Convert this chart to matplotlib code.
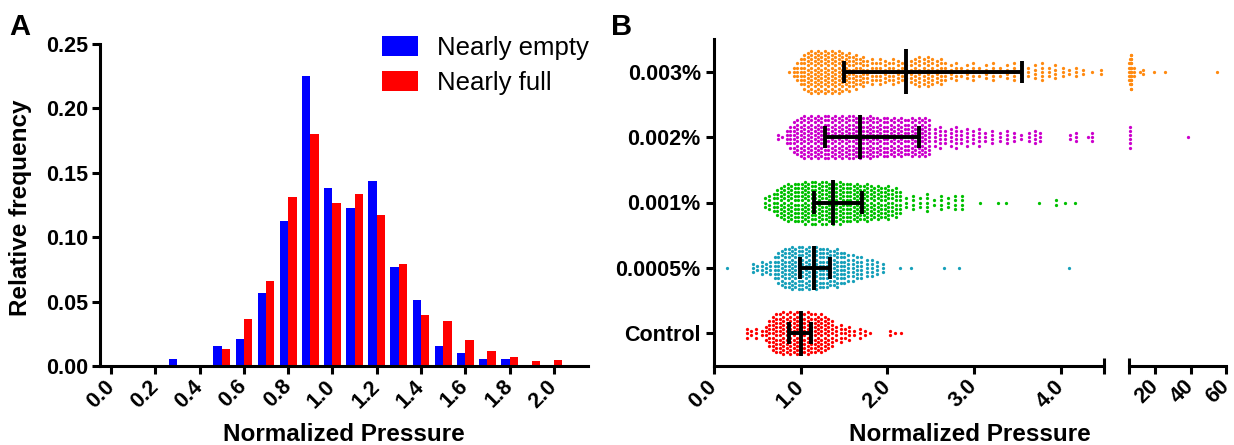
import matplotlib
matplotlib.use('Agg')
import matplotlib.pyplot as plt
import numpy as np

plt.rcParams['font.family'] = ['Liberation Sans', 'DejaVu Sans']

# --- Panel A data: relative frequency histogram ---
bin_centers = [0.3, 0.4, 0.5, 0.6, 0.7, 0.8, 0.9, 1.0, 1.1, 1.2,
               1.3, 1.4, 1.5, 1.6, 1.7, 1.8, 1.9, 2.0]
nearly_empty = [0.0055, 0.0, 0.0155, 0.0207, 0.0565, 0.1127, 0.2250, 0.1380, 0.1230, 0.1433,
                0.0770, 0.0513, 0.0155, 0.0104, 0.0054, 0.0054, 0.0, 0.0]
nearly_full = [0.0, 0.0, 0.0130, 0.0363, 0.0663, 0.1313, 0.1800, 0.1267, 0.1337, 0.1176,
               0.0790, 0.0396, 0.0350, 0.0200, 0.0117, 0.0070, 0.0036, 0.0047]

# --- Panel B data: scatter columns (value, number of dots) ---
groups = ['Control', '0.0005%', '0.001%', '0.002%', '0.003%']
group_colors = ['#FF0000', '#17A0BA', '#00C000', '#CC00CC', '#FF8A10']

control_cols = [(0.38, 3), (0.43, 2), (0.48, 3), (0.55, 2), (0.60, 4), (0.64, 7), (0.68, 9),
                (0.72, 10), (0.76, 10), (0.80, 11), (0.84, 10), (0.88, 11), (0.92, 10),
                (0.96, 11), (1.00, 10), (1.04, 10), (1.08, 11), (1.12, 10), (1.16, 10),
                (1.20, 9), (1.24, 10), (1.28, 9), (1.32, 8), (1.36, 7), (1.41, 4), (1.46, 5),
                (1.51, 3), (1.56, 4), (1.62, 2), (1.68, 3), (1.74, 2), (1.80, 1),
                (2.03, 2), (2.09, 1), (2.16, 1)]

p0005_cols = [(0.15, 1), (0.45, 3), (0.50, 2), (0.55, 4), (0.60, 3), (0.65, 4), (0.70, 6),
              (0.74, 8), (0.78, 9), (0.82, 10), (0.86, 10), (0.90, 11), (0.94, 10), (0.98, 11),
              (1.02, 11), (1.06, 10), (1.10, 11), (1.14, 10), (1.18, 11), (1.22, 10), (1.26, 10),
              (1.30, 10), (1.34, 9), (1.38, 9), (1.42, 10), (1.46, 8), (1.50, 8), (1.55, 7),
              (1.60, 7), (1.65, 6), (1.70, 6), (1.76, 5), (1.82, 5), (1.88, 4), (1.95, 3),
              (2.15, 1), (2.27, 1), (2.65, 1), (2.83, 1), (4.10, 1)]

p001_cols = [(0.59, 3), (0.64, 4), (0.69, 5), (0.73, 7), (0.77, 8), (0.81, 9), (0.85, 10),
             (0.89, 9), (0.93, 10), (0.97, 10), (1.01, 10), (1.05, 11), (1.09, 10), (1.13, 11),
             (1.17, 11), (1.21, 10), (1.25, 11), (1.29, 11), (1.33, 10), (1.37, 11), (1.41, 10),
             (1.45, 11), (1.49, 10), (1.53, 10), (1.57, 10), (1.61, 9), (1.65, 10), (1.69, 9),
             (1.73, 9), (1.77, 10), (1.81, 9), (1.85, 8), (1.89, 9), (1.93, 8), (1.97, 8),
             (2.01, 9), (2.05, 7), (2.10, 8), (2.15, 6), (2.22, 3), (2.30, 4), (2.38, 3),
             (2.46, 5), (2.54, 2), (2.62, 4), (2.70, 3), (2.78, 4), (2.86, 4), (3.07, 1),
             (3.28, 1), (3.37, 1), (3.75, 1), (3.95, 2), (4.05, 1), (4.16, 1)]

p002_cols = [(0.74, 2), (0.79, 1), (0.84, 4), (0.88, 6), (0.92, 8), (0.96, 9), (1.00, 10),
             (1.04, 11), (1.08, 10), (1.12, 11), (1.16, 10), (1.20, 11), (1.24, 10), (1.28, 11),
             (1.32, 11), (1.36, 10), (1.40, 11), (1.44, 10), (1.48, 11), (1.52, 10), (1.56, 11),
             (1.60, 11), (1.64, 10), (1.68, 11), (1.72, 10), (1.76, 10), (1.80, 11), (1.84, 10),
             (1.88, 10), (1.92, 9), (1.96, 10), (2.00, 10), (2.04, 9), (2.08, 10), (2.12, 9),
             (2.16, 10), (2.20, 9), (2.24, 9), (2.28, 10), (2.32, 9), (2.36, 10), (2.40, 9),
             (2.44, 10), (2.48, 9), (2.55, 5), (2.61, 6), (2.67, 4), (2.73, 5), (2.79, 6),
             (2.85, 4), (2.92, 5), (2.99, 4), (3.06, 5), (3.13, 3), (3.21, 4), (3.30, 3),
             (3.38, 4), (3.46, 3), (3.54, 2), (3.63, 3), (3.70, 4), (3.76, 3), (4.11, 2),
             (4.18, 3), (4.31, 1), (4.36, 3), (5.6, 6), (38.3, 1)]

p003_cols = [(0.87, 1), (0.92, 3), (0.96, 5), (1.00, 7), (1.04, 9), (1.08, 10), (1.12, 11),
             (1.16, 10), (1.20, 11), (1.24, 10), (1.28, 11), (1.32, 10), (1.36, 11), (1.40, 10),
             (1.44, 11), (1.48, 10), (1.52, 9), (1.56, 10), (1.60, 8), (1.64, 9), (1.68, 7),
             (1.72, 8), (1.77, 6), (1.82, 7), (1.87, 5), (1.92, 7), (1.97, 6), (2.02, 5),
             (2.07, 7), (2.12, 6), (2.17, 5), (2.22, 4), (2.27, 6), (2.32, 7), (2.37, 8),
             (2.42, 7), (2.47, 8), (2.52, 7), (2.57, 6), (2.62, 7), (2.67, 5), (2.73, 4),
             (2.79, 5), (2.85, 3), (2.92, 4), (2.99, 5), (3.06, 3), (3.14, 4), (3.22, 5),
             (3.30, 3), (3.38, 4), (3.46, 5), (3.54, 4), (3.62, 3), (3.70, 4), (3.78, 5),
             (3.86, 3), (3.94, 4), (4.03, 3), (4.10, 2), (4.18, 3), (4.26, 2), (4.36, 1),
             (4.47, 2), (5.2, 5), (5.5, 7), (5.9, 9), (6.4, 9), (8.0, 3), (11.5, 1),
             (12.7, 2), (18.9, 1), (25.6, 1), (54.9, 1)]

group_cols = [control_cols, p0005_cols, p001_cols, p002_cols, p003_cols]

# median and interquartile range shown as error bars
median_vals = [1.00, 1.15, 1.37, 1.68, 2.22]
q1_vals = [0.86, 0.99, 1.15, 1.28, 1.50]
q3_vals = [1.12, 1.34, 1.71, 2.37, 3.55]

W, H = 1234, 445
fig = plt.figure(figsize=(W / 100, H / 100), dpi=100)

lab_font = dict(fontsize=17.5, fontweight='bold')

def style_axis(ax):
    for s in ['top', 'right']:
        ax.spines[s].set_visible(False)
    for s in ['left', 'bottom']:
        ax.spines[s].set_linewidth(2.2)
    ax.tick_params(width=2.2, length=5.5, labelsize=15.5)
    for lbl in ax.get_xticklabels() + ax.get_yticklabels():
        lbl.set_fontweight('bold')

def rotate_xlabels(ax):
    ax.tick_params(axis='x', pad=7)
    for lbl in ax.get_xticklabels():
        lbl.set_rotation(45)
        lbl.set_ha('right')
        lbl.set_va('center')
        lbl.set_rotation_mode('anchor')

# --- Panel A ---
axA = fig.add_axes([100 / W, 1 - 366 / H, 488 / W, 322 / H])
w = 0.038
x = np.array(bin_centers)
axA.bar(x - w / 2, nearly_empty, width=w, color='#0000FF', label='Nearly empty')
axA.bar(x + w / 2, nearly_full, width=w, color='#FF0000', label='Nearly full')
axA.set_xlim(-0.05, 2.154)
axA.set_ylim(0, 0.25)
xt = np.round(np.arange(0, 2.01, 0.2), 1)
axA.set_xticks(xt)
axA.set_xticklabels([f'{v:.1f}' for v in xt])
yt = np.round(np.arange(0, 0.251, 0.05), 2)
axA.set_yticks(yt)
axA.set_yticklabels([f'{v:.2f}' for v in yt])
style_axis(axA)
axA.tick_params(axis='y', pad=3)
rotate_xlabels(axA)
axA.legend(loc='upper left', bbox_to_anchor=(382 / W, 1 - 36 / H), bbox_transform=fig.transFigure,
           frameon=False, fontsize=18.5, handlelength=1.4, handleheight=0.78,
           handletextpad=0.75, labelspacing=0.42, borderpad=0, borderaxespad=0)

# --- Panel B (broken x axis) ---
axB = fig.add_axes([714 / W, 1 - 366 / H, 390 / W, 327 / H])
axC = fig.add_axes([1129 / W, 1 - 366 / H, 97 / W, 327 / H])
dy = 4.2 / 65.4

for row, (cols, color) in enumerate(zip(group_cols, group_colors)):
    xs, ys = [], []
    for val, n in cols:
        for i in range(n):
            xs.append(val)
            ys.append(row + (i - (n - 1) / 2) * dy)
    xs = np.array(xs)
    ys = np.array(ys)
    left = xs <= 4.5
    axB.scatter(xs[left], ys[left], s=5.5, color=color, linewidths=0, zorder=2)
    right = xs >= 5
    axC.scatter(xs[right], ys[right], s=5.5, color=color, linewidths=0, zorder=2, clip_on=False)

rows = np.arange(len(groups))
axB.hlines(rows, q1_vals, q3_vals, color='k', lw=2.8, zorder=3)
axB.vlines(median_vals, rows - 0.34, rows + 0.34, color='k', lw=2.8, zorder=3)
axB.vlines(q1_vals, rows - 0.17, rows + 0.17, color='k', lw=2.8, zorder=3)
axB.vlines(q3_vals, rows - 0.17, rows + 0.17, color='k', lw=2.8, zorder=3)

axB.set_ylim(-0.5, 4.5)
axB.set_xlim(0, 4.5)
axB.set_yticks(rows)
axB.set_yticklabels(groups)
xt = [0, 1, 2, 3, 4]
axB.set_xticks(xt)
axB.set_xticklabels([f'{v:.1f}' for v in xt])
style_axis(axB)
axB.tick_params(axis='y', pad=4)
axB.set_xticks([4.5], minor=True)
axB.tick_params(axis='x', which='minor', direction='inout', length=12, width=2.2)
rotate_xlabels(axB)

axC.set_ylim(-0.5, 4.5)
axC.set_xlim(5, 60)
axC.set_xticks([20, 40, 60])
axC.set_xticklabels(['20', '40', '60'])
style_axis(axC)
axC.spines['left'].set_visible(False)
axC.set_yticks([])
axC.set_xticks([5], minor=True)
axC.tick_params(axis='x', which='minor', direction='inout', length=12, width=2.2)
rotate_xlabels(axC)

# --- labels ---
fig.text(9 / W, 1 - 35 / H, 'A', fontsize=21, fontweight='bold', va='baseline')
fig.text(611 / W, 1 - 35 / H, 'B', fontsize=21, fontweight='bold', va='baseline')
fig.text(344 / W, 1 - 441 / H, 'Normalized Pressure', ha='center', va='baseline', **lab_font)
fig.text(970 / W, 1 - 441 / H, 'Normalized Pressure', ha='center', va='baseline', **lab_font)
fig.text(21 / W, 1 - 208 / H, 'Relative frequency', ha='center', va='center', rotation=90, **lab_font)

fig.savefig('out.png', dpi=100)
